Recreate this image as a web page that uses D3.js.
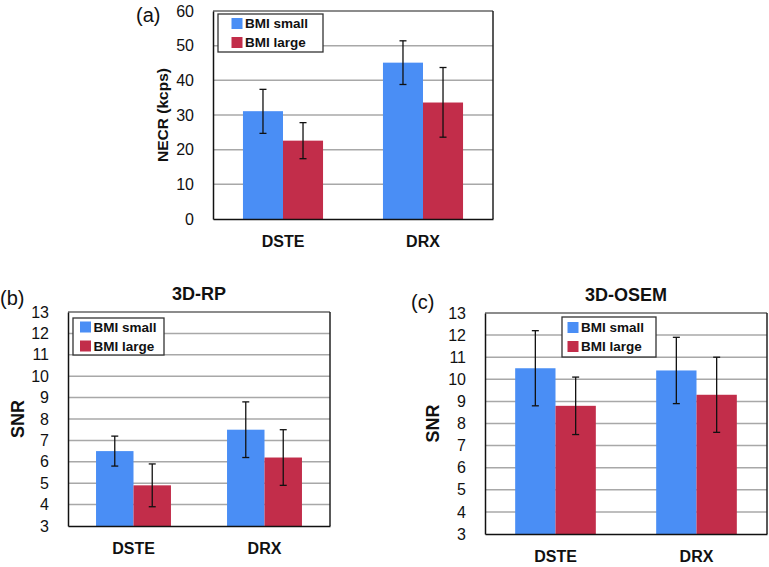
<!DOCTYPE html>
<html lang="en">
<head>
<meta charset="UTF-8" />
<title>NECR and SNR by BMI</title>
<style>
  body { margin: 0; background: #fff; }
  svg { font-family: "Liberation Sans", Arial, sans-serif; }
  .grid line { stroke: #a8a8a8; stroke-width: 1.5; }
  .tick-label { font-size: 16px; fill: #111; }
  .cat-label { font-size: 16px; font-weight: bold; fill: #111; }
  .legend-text { font-size: 13.5px; font-weight: bold; fill: #111; }
</style>
</head>
<body>
<script src="https://cdn.jsdelivr.net/npm/d3@7"></script>
<script>
// categories and series
var categories = ["DSTE", "DRX"];
var seriesNames = ["BMI small", "BMI large"];
var seriesColors = ["#4a8ef5", "#c22d4a"];

// (a) NECR (kcps)
var necrSmall = [31.1, 45.1];
var necrLarge = [22.6, 33.6];
var necrSmallLow = [24.7, 38.8], necrSmallHigh = [37.4, 51.4];
var necrLargeLow = [17.4, 23.6], necrLargeHigh = [27.8, 43.7];
var necrTicks = [0, 10, 20, 30, 40, 50, 60];

// (b) SNR 3D-RP
var rpSmall = [6.5, 7.5];
var rpLarge = [4.9, 6.2];
var rpSmallLow = [5.8, 6.2], rpSmallHigh = [7.2, 8.8];
var rpLargeLow = [3.9, 4.9], rpLargeHigh = [5.9, 7.5];

// (c) SNR 3D-OSEM
var osemSmall = [10.5, 10.4];
var osemLarge = [8.8, 9.3];
var osemSmallLow = [8.8, 8.9], osemSmallHigh = [12.2, 11.9];
var osemLargeLow = [7.5, 7.6], osemLargeHigh = [10.1, 11.0];

var snrTicks = [3, 4, 5, 6, 7, 8, 9, 10, 11, 12, 13];

var svg = d3.select("body").append("svg")
  .attr("width", 769)
  .attr("height", 567);

function drawPanel(p) {
  var g = svg.append("g");

  var x = d3.scaleBand().domain(categories).range([p.left, p.right]);
  var y = d3.scaleLinear().domain(p.domain).range([p.bottom, p.top]);
  var groupW = x.bandwidth() * 0.572;
  var xs = d3.scaleBand().domain(seriesNames).range([0, groupW]);

  // gridlines
  g.append("g").attr("class", "grid")
    .selectAll("line")
    .data(p.ticks.slice(1, -1))
    .join("line")
    .attr("x1", p.left).attr("x2", p.right)
    .attr("y1", function(d) { return y(d); })
    .attr("y2", function(d) { return y(d); });

  // frame
  g.append("line").attr("x1", p.left).attr("x2", p.right)
    .attr("y1", p.top).attr("y2", p.top)
    .attr("stroke", "#666").attr("stroke-width", 1.5);
  g.append("line").attr("x1", p.right).attr("x2", p.right)
    .attr("y1", p.top).attr("y2", p.bottom)
    .attr("stroke", "#222").attr("stroke-width", 1.5);

  // bars
  var rows = [];
  categories.forEach(function(c, i) {
    p.series.forEach(function(s, j) {
      rows.push({ cat: c, name: seriesNames[j], v: s.mean[i], lo: s.low[i], hi: s.high[i], color: seriesColors[j] });
    });
  });

  var gx = function(d) {
    return x(d.cat) + (x.bandwidth() - groupW) / 2 + xs(d.name);
  };

  g.selectAll("rect.bar")
    .data(rows)
    .join("rect")
    .attr("class", "bar")
    .attr("x", gx)
    .attr("width", xs.bandwidth())
    .attr("y", function(d) { return y(d.v); })
    .attr("height", function(d) { return p.bottom - y(d.v); })
    .attr("fill", function(d) { return d.color; });

  // error bars
  var eb = g.selectAll("g.err").data(rows).join("g").attr("class", "err")
    .attr("stroke", "#111").attr("stroke-width", 1.3);
  eb.append("line")
    .attr("x1", function(d) { return gx(d) + xs.bandwidth() / 2; })
    .attr("x2", function(d) { return gx(d) + xs.bandwidth() / 2; })
    .attr("y1", function(d) { return y(d.lo); })
    .attr("y2", function(d) { return y(d.hi); });
  ["lo", "hi"].forEach(function(k) {
    eb.append("line")
      .attr("x1", function(d) { return gx(d) + xs.bandwidth() / 2 - 3.5; })
      .attr("x2", function(d) { return gx(d) + xs.bandwidth() / 2 + 3.5; })
      .attr("y1", function(d) { return y(d[k]); })
      .attr("y2", function(d) { return y(d[k]); });
  });

  // axes (left and bottom)
  var yAxis = d3.axisLeft(y).tickValues(p.ticks).tickSize(0).tickPadding(19);
  var ya = g.append("g").attr("transform", "translate(" + p.left + ",0)").call(yAxis);
  ya.select(".domain").attr("stroke", "#111").attr("stroke-width", 1.5);
  ya.selectAll("text").attr("class", "tick-label").attr("font-family", null).attr("font-size", null);

  var xAxis = d3.axisBottom(x).tickSize(0).tickPadding(p.catPad);
  var xa = g.append("g").attr("transform", "translate(0," + p.bottom + ")").call(xAxis);
  xa.select(".domain").attr("stroke", "#111").attr("stroke-width", 1.5);
  xa.selectAll("text").attr("class", "cat-label").attr("font-family", null).attr("font-size", null);

  // y title
  g.append("text")
    .attr("transform", "translate(" + p.yTitleX + "," + ((p.top + p.bottom) / 2) + ") rotate(-90)")
    .attr("text-anchor", "middle")
    .attr("dy", "0.35em")
    .attr("font-size", p.yTitleSize)
    .attr("font-weight", "bold")
    .attr("fill", "#111")
    .text(p.yTitle);

  // panel title
  if (p.title) {
    g.append("text")
      .attr("x", (p.left + p.right) / 2)
      .attr("y", p.top - 12)
      .attr("text-anchor", "middle")
      .attr("font-size", 18)
      .attr("font-weight", "bold")
      .attr("fill", "#111")
      .text(p.title);
  }

  // panel letter
  g.append("text")
    .attr("x", p.letterX)
    .attr("y", p.letterY)
    .attr("font-size", 20)
    .attr("fill", "#111")
    .text(p.letter);

  // legend
  var lg = g.append("g").attr("transform", "translate(" + p.legX + "," + p.legY + ")");
  lg.append("rect")
    .attr("width", p.legW).attr("height", p.legH)
    .attr("fill", "#fff").attr("stroke", "#333").attr("stroke-width", 1.3);
  seriesNames.forEach(function(name, i) {
    var cy = p.legH / 2 + (i - 0.5) * 19;
    lg.append("rect")
      .attr("x", p.legPad).attr("y", cy - 5.5)
      .attr("width", 11).attr("height", 11)
      .attr("fill", seriesColors[i]);
    lg.append("text")
      .attr("class", "legend-text")
      .attr("x", p.legPad + 13.5).attr("y", cy)
      .attr("dy", "0.35em")
      .text(name);
  });
}

drawPanel({
  left: 213, right: 493, top: 11, bottom: 219,
  domain: [0, 60], ticks: necrTicks,
  series: [
    { mean: necrSmall, low: necrSmallLow, high: necrSmallHigh },
    { mean: necrLarge, low: necrLargeLow, high: necrLargeHigh }
  ],
  yTitle: "NECR (kcps)", yTitleX: 163, yTitleSize: 15.5,
  catPad: 17,
  letter: "(a)", letterX: 136, letterY: 22,
  legX: 218, legY: 14, legW: 105, legH: 38, legPad: 13.5
});

drawPanel({
  left: 68, right: 330, top: 312, bottom: 526,
  domain: [3, 13], ticks: snrTicks,
  series: [
    { mean: rpSmall, low: rpSmallLow, high: rpSmallHigh },
    { mean: rpLarge, low: rpLargeLow, high: rpLargeHigh }
  ],
  title: "3D-RP",
  yTitle: "SNR", yTitleX: 18, yTitleSize: 18,
  catPad: 17,
  letter: "(b)", letterX: 0, letterY: 305,
  legX: 73, legY: 318, legW: 91, legH: 37, legPad: 7
});

drawPanel({
  left: 485, right: 767, top: 313, bottom: 534,
  domain: [3, 13], ticks: snrTicks,
  series: [
    { mean: osemSmall, low: osemSmallLow, high: osemSmallHigh },
    { mean: osemLarge, low: osemLargeLow, high: osemLargeHigh }
  ],
  title: "3D-OSEM",
  yTitle: "SNR", yTitleX: 433, yTitleSize: 18,
  catPad: 17,
  letter: "(c)", letterX: 411, letterY: 309,
  legX: 562, legY: 317, legW: 94, legH: 40, legPad: 5.5
});
</script>
</body>
</html>
